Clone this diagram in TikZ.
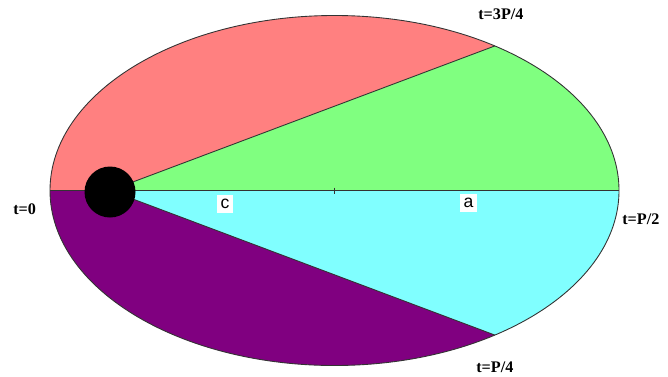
\documentclass[tikz,border=0pt]{standalone}
\usepackage{fontspec}
\setmainfont{Liberation Serif}
\newfontfamily\axfont{Liberation Sans}
\usepackage{xcolor}
\usepackage{tikz}
\usetikzlibrary{positioning,calc}

\definecolor{orbpink}{HTML}{FF8080}
\definecolor{orbgreen}{HTML}{80FF80}
\definecolor{orbcyan}{HTML}{80FFFF}
\definecolor{orbpurple}{HTML}{800080}

\begin{document}
\begin{tikzpicture}[
    x=0.02cm, y=0.02cm,
    sector/.style={draw=black!80, line width=0.5pt},
    orb/.style={x radius=284.5, y radius=175},
    tlbl/.style={
        anchor=base west,
        inner sep=0pt,
        font=\fontsize{9.2}{10}\selectfont\bfseries
    },
    axlbl/.style={
        fill=white,
        inner sep=0pt,
        minimum width=0.33cm,
        minimum height=0.36cm,
        font=\fontsize{10}{11}\axfont
    },
]

\useasboundingbox (0,0) rectangle (668,376);

\coordinate (O) at (334.5,185.5);
\coordinate (F) at (110.2,185.5);
\coordinate (L) at ($(O)+(-284.5,0)$);
\coordinate (R) at ($(O)+(284.5,0)$);
\coordinate (Q3) at ($(O)+({284.5*cos(55.7)},{175*sin(55.7)})$);

% the four swept areas
\fill[orbpink]   (F) -- (L) arc[orb, start angle=180, end angle=55.7] -- cycle;
\fill[orbgreen]  (F) -- (Q3) arc[orb, start angle=55.7, end angle=0] -- cycle;
\fill[orbcyan]   (F) -- (R) arc[orb, start angle=0, end angle=-55.7] -- cycle;
\fill[orbpurple] (F) -- (L) arc[orb, start angle=180, end angle=304.3] -- cycle;

% orbit and radii
\draw[sector] (O) ellipse[orb];
\draw[sector] (L) -- (R);
\draw[sector] (F) -- (Q3);
\draw[sector] (F) -- ($(O)+({284.5*cos(55.7)},{-175*sin(55.7)})$) coordinate (Q1);
\draw[black!80, line width=0.5pt] ($(O)+(0,3)$) -- ($(O)+(0,-3)$);

% sun
\fill[black] (110,184) circle[radius=25.5];

\node[axlbl] (c) at (225,172) {c};
\node[axlbl] (a) at (468.5,173) {a};

\node[tlbl] (t0)  at (13,161.5)  {t=0};
\node[tlbl] (t34) at (478,356.5) {t=3P/4};
\node[tlbl] (t12) at (622,151.5) {t=P/2};
\node[tlbl] (t14) at (476,4)     {t=P/4};

\end{tikzpicture}
\end{document}
